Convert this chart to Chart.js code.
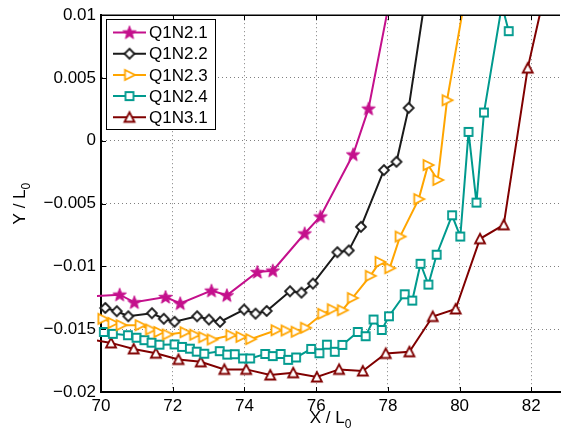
<!DOCTYPE html>
<html>
<head>
<meta charset="utf-8">
<script src="https://cdn.jsdelivr.net/npm/chart.js@4"></script>
<style>
  html, body { margin: 0; padding: 0; background: #fff; }
  #wrap { width: 568px; height: 434px; }
</style>
</head>
<body>
<div id="wrap"><canvas id="chart" width="568" height="434"></canvas></div>
<script>
// data
const xTicks = [70, 72, 74, 76, 78, 80, 82];
const yTicks = [-0.02, -0.015, -0.01, -0.005, 0, 0.005, 0.01];

const q21X = [69.7, 70.52, 70.93, 71.80, 72.21, 73.08, 73.51, 74.36, 74.79, 75.68, 76.12, 77.03, 77.46, 78.24];
const q21Y = [-0.01238, -0.01225, -0.01286, -0.01244, -0.01294, -0.01193, -0.01230, -0.01045, -0.01034, -0.00738, -0.00603, -0.00109, 0.00256, 0.0140];

const q22X = [70.12, 70.44, 70.76, 71.42, 71.75, 72.05, 72.68, 73.01, 73.32, 73.99, 74.31, 74.62, 75.27, 75.59, 75.91, 76.59, 76.91, 77.25, 77.89, 78.24, 78.58, 79.18];
const q22Y = [-0.01331, -0.01357, -0.01397, -0.01373, -0.01417, -0.01441, -0.01397, -0.01423, -0.01442, -0.01344, -0.01376, -0.01355, -0.01198, -0.01209, -0.01137, -0.00887, -0.00873, -0.00685, -0.00233, -0.00167, 0.00262, 0.0140];

const q23X = [70.05, 70.33, 70.56, 71.09, 71.38, 71.61, 71.85, 72.34, 72.61, 72.86, 73.10, 73.62, 73.90, 74.17, 74.88, 75.16, 75.44, 75.70, 76.18, 76.45, 76.73, 77.01, 77.51, 77.78, 78.05, 78.34, 78.86, 79.12, 79.39, 79.65, 80.31];
const q23Y = [-0.01417, -0.01450, -0.01468, -0.01468, -0.01502, -0.01522, -0.01542, -0.01524, -0.01544, -0.01564, -0.01582, -0.01548, -0.01561, -0.01579, -0.01508, -0.01510, -0.01520, -0.01488, -0.01377, -0.01341, -0.01349, -0.01252, -0.01075, -0.00964, -0.01014, -0.00762, -0.00464, -0.00193, -0.00312, 0.00323, 0.0140];

const q24X = [70.08, 70.33, 70.75, 70.99, 71.21, 71.41, 71.63, 72.05, 72.26, 72.48, 72.67, 72.88, 73.31, 73.52, 73.73, 73.96, 74.16, 74.58, 74.79, 75.01, 75.22, 75.44, 75.86, 76.09, 76.30, 76.52, 76.73, 77.16, 77.38, 77.60, 77.83, 78.03, 78.47, 78.68, 78.91, 79.13, 79.36, 79.79, 80.02, 80.25, 80.47, 80.68, 81.18, 81.37];
const q24Y = [-0.01522, -0.01537, -0.01548, -0.01568, -0.01587, -0.01607, -0.01623, -0.01621, -0.01641, -0.01655, -0.01679, -0.01695, -0.01675, -0.01702, -0.01699, -0.01733, -0.01733, -0.01697, -0.01714, -0.01697, -0.01744, -0.01725, -0.01657, -0.01691, -0.01623, -0.01680, -0.01625, -0.01522, -0.01556, -0.01423, -0.01506, -0.01397, -0.01222, -0.01272, -0.00979, -0.01145, -0.00907, -0.00593, -0.00762, 0.00071, -0.00492, 0.00225, 0.01080, 0.00873];

const q31X = [69.7, 70.28, 70.91, 71.53, 72.16, 72.78, 73.44, 74.05, 74.72, 75.36, 76.02, 76.64, 77.30, 77.94, 78.60, 79.25, 79.89, 80.57, 81.23, 81.90, 82.55];
const q31Y = [-0.0158, -0.01609, -0.01657, -0.01691, -0.01741, -0.01760, -0.01820, -0.01820, -0.01865, -0.01847, -0.01881, -0.01820, -0.01833, -0.01693, -0.01680, -0.01399, -0.01339, -0.00780, -0.00669, 0.00579, 0.0140];

const FONT = '"Liberation Sans", Arial, Helvetica, sans-serif';

// MATLAB-like markers drawn on small canvases
function makeMarker(kind, color) {
  const s = 18, c = document.createElement('canvas');
  c.width = s; c.height = s;
  const g = c.getContext('2d');
  g.strokeStyle = color;
  g.fillStyle = '#fff';
  g.lineWidth = 1.8;
  g.lineJoin = 'miter';
  g.beginPath();
  if (kind === 'star') {
    for (let i = 0; i < 10; i++) {
      const r = i % 2 ? 2.9 : 7;
      const a = -Math.PI / 2 + i * Math.PI / 5;
      g.lineTo(9 + r * Math.cos(a), 9.5 + r * Math.sin(a));
    }
    g.closePath();
    g.fillStyle = color;
    g.lineWidth = 1;
  } else if (kind === 'diamond') {
    g.moveTo(9, 4); g.lineTo(14, 9); g.lineTo(9, 14); g.lineTo(4, 9); g.closePath();
  } else if (kind === 'right') {
    g.moveTo(4.5, 4); g.lineTo(14.5, 9); g.lineTo(4.5, 14); g.closePath();
  } else if (kind === 'square') {
    g.rect(5, 5, 8, 8);
  } else {
    g.moveTo(9, 4); g.lineTo(14, 13.5); g.lineTo(4, 13.5); g.closePath();
  }
  g.fill();
  g.stroke();
  return c;
}

const series = [
  { label: 'Q1N2.1', xs: q21X, ys: q21Y, color: '#c4108c', marker: 'star' },
  { label: 'Q1N2.2', xs: q22X, ys: q22Y, color: '#1a1a1a', marker: 'diamond' },
  { label: 'Q1N2.3', xs: q23X, ys: q23Y, color: '#ffa500', marker: 'right' },
  { label: 'Q1N2.4', xs: q24X, ys: q24Y, color: '#009a8e', marker: 'square' },
  { label: 'Q1N3.1', xs: q31X, ys: q31Y, color: '#800000', marker: 'tri' }
];
series.forEach(s => { s.img = makeMarker(s.marker, s.color); });

// axis titles with subscripts, inward ticks, top border and legend
const matlabBits = {
  id: 'matlabBits',
  afterDraw(chart) {
    const ctx = chart.ctx, a = chart.chartArea;
    const xs = chart.scales.x, ys = chart.scales.y;
    ctx.save();
    ctx.strokeStyle = '#000';
    ctx.lineWidth = 1;
    xTicks.forEach(v => {
      const px = Math.round(xs.getPixelForValue(v)) + 0.5;
      ctx.beginPath();
      ctx.moveTo(px, a.bottom); ctx.lineTo(px, a.bottom - 5);
      ctx.moveTo(px, a.top); ctx.lineTo(px, a.top + 5);
      ctx.stroke();
    });
    yTicks.forEach(v => {
      const py = Math.round(ys.getPixelForValue(v)) + 0.5;
      ctx.beginPath();
      ctx.moveTo(a.left, py); ctx.lineTo(a.left + 5, py);
      ctx.stroke();
    });
    ctx.lineWidth = 1.5;
    ctx.beginPath();
    ctx.moveTo(a.left, a.top); ctx.lineTo(a.right, a.top);
    ctx.stroke();

    // axis titles
    function subTitle(main, sub, cx, cy) {
      ctx.font = '17px ' + FONT;
      const w1 = ctx.measureText(main).width;
      ctx.font = '12px ' + FONT;
      const w2 = ctx.measureText(sub).width;
      const x0 = cx - (w1 + w2) / 2;
      ctx.fillStyle = '#000';
      ctx.textBaseline = 'middle';
      ctx.textAlign = 'left';
      ctx.font = '17px ' + FONT;
      ctx.fillText(main, x0, cy);
      ctx.font = '12px ' + FONT;
      ctx.fillText(sub, x0 + w1, cy + 7);
    }
    subTitle('X / L', '0', (a.left + a.right) / 2, 418);
    ctx.save();
    ctx.translate(20, (a.top + a.bottom) / 2);
    ctx.rotate(-Math.PI / 2);
    subTitle('Y / L', '0', 0, 0);
    ctx.restore();

    // legend box
    const bx = 106.5, by = 19.5, bw = 109, bh = 110;
    ctx.fillStyle = '#fff';
    ctx.fillRect(bx, by, bw, bh);
    ctx.strokeStyle = '#000';
    ctx.lineWidth = 1;
    ctx.strokeRect(bx, by, bw, bh);
    series.forEach((s, i) => {
      const y = 32.5 + i * 21.2;
      ctx.strokeStyle = s.color;
      ctx.lineWidth = 2;
      ctx.beginPath();
      ctx.moveTo(113, y); ctx.lineTo(146, y);
      ctx.stroke();
      ctx.drawImage(s.img, 129.5 - 9, y - 9);
      ctx.fillStyle = '#000';
      ctx.font = '17px ' + FONT;
      ctx.textBaseline = 'middle';
      ctx.textAlign = 'left';
      ctx.fillText(s.label, 149, y + 1);
    });
    ctx.restore();
  }
};

function fmtY(v) {
  if (Math.abs(v) < 1e-12) return '0';
  const t = String(Math.abs(+v.toFixed(3)));
  return (v < 0 ? '\u2212' : '') + t;
}

try {
  new Chart(document.getElementById('chart'), {
    type: 'scatter',
    data: {
      datasets: series.map(s => ({
        label: s.label,
        data: s.xs.map((x, i) => ({ x: x, y: s.ys[i] })),
        showLine: true,
        borderColor: s.color,
        backgroundColor: s.color,
        borderWidth: 2,
        tension: 0,
        pointStyle: s.img,
        pointRadius: 6,
        pointHoverRadius: 6,
        clip: { left: 4, top: 0, right: 0, bottom: 0 }
      }))
    },
    plugins: [matlabBits],
    options: {
      responsive: false,
      animation: false,
      layout: { padding: { top: 13, right: 0, left: 0, bottom: 0 } },
      plugins: { legend: { display: false }, tooltip: { enabled: false } },
      scales: {
        x: {
          type: 'linear',
          min: 70,
          max: 82.8,
          afterBuildTicks: s => { s.ticks = xTicks.map(v => ({ value: v })); },
          afterFit: s => { s.height = 42; },
          ticks: { color: '#000', font: { family: FONT, size: 17 }, padding: 4, maxRotation: 0, autoSkip: false },
          grid: { color: 'rgba(0,0,0,0.5)', lineWidth: 1, drawTicks: false },
          border: { display: true, color: '#000', width: 2, dash: [1, 3] }
        },
        y: {
          type: 'linear',
          min: -0.02,
          max: 0.01,
          afterBuildTicks: s => { s.ticks = yTicks.map(v => ({ value: v })); },
          afterFit: s => { s.width = 101; },
          ticks: { color: '#000', font: { family: FONT, size: 17 }, padding: 5, callback: v => fmtY(v) },
          grid: { color: 'rgba(0,0,0,0.5)', lineWidth: 1, drawTicks: false },
          border: { display: true, color: '#000', width: 2, dash: [1, 3] }
        }
      }
    }
  });
} catch (e) {
  console.error('Chart failed:', e);
}
</script>
</body>
</html>
